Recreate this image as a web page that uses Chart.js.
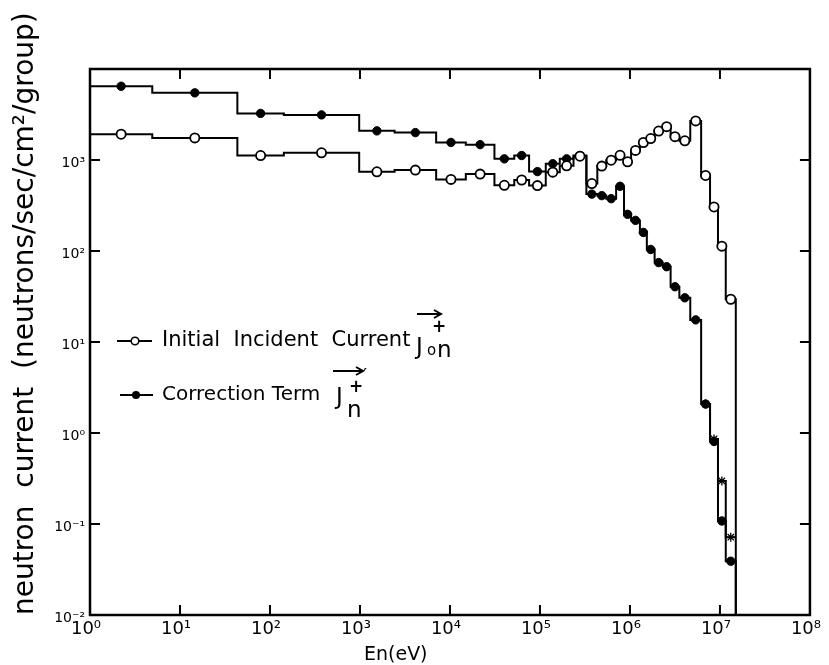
<!DOCTYPE html>
<html><head><meta charset="utf-8">
<script src="https://cdn.jsdelivr.net/npm/chart.js@4.4.1/dist/chart.umd.min.js"></script>
<style>html,body{margin:0;padding:0;background:#fff;}</style>
</head><body>
<canvas id="c" width="829" height="665"></canvas>
<script>
// ---- data ----
// energy-group boundaries (eV), 31 groups
const groupBounds = [1, 4.92, 43.4, 142.6, 980, 2425, 7020, 1.5e4, 3.12e4, 5.18e4,
  7.57e4, 1.16e5, 1.66e5, 2.36e5, 3.28e5, 4.34e5, 5.45e5, 7.02e5, 8.59e5, 1.03e6,
  1.29e6, 1.54e6, 1.88e6, 2.31e6, 2.83e6, 3.54e6, 4.68e6, 6.18e6, 7.76e6, 9.51e6,
  1.16e7, 1.5e7];
// Initial Incident Current (open circles)
const initialCurrent = [1920, 1750, 1120, 1200, 742, 774, 612, 700, 527, 603,
  523, 735, 863, 1100, 551, 857, 995, 1127, 956, 1275,
  1557, 1722, 2080, 2325, 1805, 1625, 2690, 676, 305, 113, 29.5];
// Correction Term (filled circles)
const correctionTerm = [6460, 5470, 3250, 3130, 2090, 2000, 1560, 1475, 1030, 1120,
  746, 910, 1030, 1120, 422, 406, 376, 514, 253, 217,
  160, 104, 74.6, 67.2, 40.5, 30.6, 17.5, 2.08, 0.807, 0.108, 0.039];
// star-marked values of the last groups (0-based group index of first)
const starFirstGroup = 27;
const starValues = [2.08, 0.86, 0.297, 0.0716];
// axes
const xTickExps = [0, 1, 2, 3, 4, 5, 6, 7, 8];
const yTickExps = [-2, -1, 0, 1, 2, 3, 4];
const yMin = 1e-2, yMax = 1e4, xMin = 1, xMax = 1e8;

// ---- helpers ----
const SUP = {'-':'\u207B','0':'\u2070','1':'\u00B9','2':'\u00B2','3':'\u00B3','4':'\u2074','5':'\u2075','6':'\u2076','7':'\u2077','8':'\u2078','9':'\u2079'};
function powLabel(v){ const e = Math.round(Math.log10(v)); return '10' + String(e).split('').map(c=>SUP[c]).join(''); }

function stepPoints(values, start, drop){
  const pts = values.map((v,i)=>({x: groupBounds[start+i], y: v}));
  const end = groupBounds[start+values.length];
  pts.push({x: end, y: values[values.length-1]});
  if (drop) pts.push({x: end, y: yMin});
  return pts;
}
function markerPoints(values, start){
  return values.map((v,i)=>({x: Math.sqrt(groupBounds[start+i]*groupBounds[start+i+1]), y: v}));
}

const FONT = '"DejaVu Sans", "Liberation Sans", sans-serif';

const framePlugin = {
  id: 'frame',
  beforeDraw(chart){
    const ctx = chart.ctx; ctx.save(); ctx.fillStyle='#fff'; ctx.fillRect(0,0,chart.width,chart.height); ctx.restore();
  },
  afterDraw(chart){
    const ctx = chart.ctx, ca = chart.chartArea, xs = chart.scales.x, ys = chart.scales.y;
    ctx.save();
    ctx.strokeStyle = '#000'; ctx.lineWidth = 2.5;
    ctx.strokeRect(ca.left, ca.top, ca.right-ca.left, ca.bottom-ca.top);
    ctx.lineWidth = 2;
    const L = 10;
    xTickExps.slice(1,-1).forEach(e=>{
      const px = xs.getPixelForValue(10**e);
      ctx.beginPath(); ctx.moveTo(px, ca.bottom); ctx.lineTo(px, ca.bottom-L);
      ctx.moveTo(px, ca.top); ctx.lineTo(px, ca.top+L); ctx.stroke();
    });
    yTickExps.slice(1,-1).forEach(e=>{
      const py = ys.getPixelForValue(10**e);
      ctx.beginPath(); ctx.moveTo(ca.left, py); ctx.lineTo(ca.left+L, py);
      ctx.moveTo(ca.right, py); ctx.lineTo(ca.right-L, py); ctx.stroke();
    });
    // x axis label
    ctx.fillStyle='#000'; ctx.font = '19px ' + FONT; ctx.textAlign='left'; ctx.textBaseline='alphabetic';
    ctx.fillText('En(eV)', xs.getPixelForValue(1e3)+4, ca.bottom+45);

    // legend
    const lx = ca.left, y1 = ys.getPixelForValue(10) - 1, y2 = y1 + 54;
    ctx.lineWidth = 2;
    ctx.beginPath(); ctx.moveTo(lx+27, y1); ctx.lineTo(lx+62, y1); ctx.stroke();
    ctx.beginPath(); ctx.arc(lx+45, y1, 3.8, 0, 2*Math.PI); ctx.fillStyle='#fff'; ctx.fill(); ctx.lineWidth=1.6; ctx.stroke();
    ctx.lineWidth = 2;
    ctx.beginPath(); ctx.moveTo(lx+30, y2); ctx.lineTo(lx+63, y2); ctx.stroke();
    ctx.beginPath(); ctx.arc(lx+46, y2, 4, 0, 2*Math.PI); ctx.fillStyle='#000'; ctx.fill();
    ctx.fillStyle='#000'; ctx.textBaseline='middle';
    ctx.font = '21px ' + FONT;
    ctx.fillText('Initial  Incident  Current', lx+72, y1);
    ctx.font = '20px ' + FONT;
    ctx.fillText('Correction Term', lx+72, y2);
    // J vector symbols
    function arrow(x1,x2,y){
      ctx.beginPath(); ctx.moveTo(x1,y); ctx.lineTo(x2,y); ctx.stroke();
      ctx.beginPath(); ctx.moveTo(x2-7,y-4); ctx.lineTo(x2,y); ctx.lineTo(x2-7,y+4); ctx.stroke();
    }
    ctx.textBaseline='alphabetic'; ctx.lineWidth=2;
    // row 1: J+ on
    let jx = lx+326;
    ctx.font = '23px ' + FONT; ctx.fillText('J', jx, y1+13);
    ctx.font = '15px ' + FONT; ctx.fillText('o', jx+11, y1+14);
    ctx.font = '23px ' + FONT; ctx.fillText('n', jx+21, y1+16);
    ctx.font = 'bold 17px ' + FONT; ctx.fillText('+', jx+16, y1-9);
    arrow(jx+1, jx+25, y1-27);
    // row 2: J+' n
    jx = lx+246;
    ctx.font = '23px ' + FONT; ctx.fillText('J', jx, y2+9);
    ctx.font = 'bold 17px ' + FONT; ctx.fillText('+', jx+13, y2-3);
    ctx.font = '18px ' + FONT; ctx.fillText('\u2032', jx+27, y2-14);
    ctx.font = '23px ' + FONT; ctx.fillText('n', jx+11, y2+22);
    arrow(jx-3, jx+27, y2-24);
    ctx.restore();
  }
};

const lineDs = (data, order) => ({data, showLine: true, stepped: true, borderColor:'#000', borderWidth: 2,
  pointRadius: 0, fill: false, order});
const ds = [
  lineDs(stepPoints(initialCurrent, 0, true), 3),
  lineDs(stepPoints(correctionTerm, 0, true), 3),
  lineDs(stepPoints(starValues, starFirstGroup, false), 3),
  {data: markerPoints(correctionTerm, 0), showLine: false, pointRadius: 4.2, pointBackgroundColor:'#000',
   pointBorderColor:'#000', pointBorderWidth: 1, order: 1},
  {data: markerPoints(initialCurrent, 0), showLine: false, pointRadius: 4.6, pointBackgroundColor:'#fff',
   pointBorderColor:'#000', pointBorderWidth: 1.8, order: 0},
  {data: markerPoints(starValues, starFirstGroup), showLine: false, pointStyle:'star', pointRadius: 4.5,
   pointBackgroundColor:'#000', pointBorderColor:'#000', pointBorderWidth: 1.3, order: 0}
];

new Chart(document.getElementById('c'), {
  type: 'line',
  data: {datasets: ds},
  plugins: [framePlugin],
  options: {
    responsive: false, animation: false, devicePixelRatio: 1,
    layout: {padding: {top: 69, right: 11, left: 0, bottom: 0}},
    plugins: {legend: {display: false}, tooltip: {enabled: false}},
    scales: {
      x: {
        type: 'logarithmic', position: 'bottom', min: xMin, max: xMax,
        afterBuildTicks: s => { s.ticks = xTickExps.map(e => ({value: 10**e})); },
        afterFit: s => { s.height = 50; },
        grid: {display: false, drawTicks: false}, border: {display: false},
        ticks: {callback: v => powLabel(v), color:'#000', font: {family: FONT, size: 18},
                padding: 4, maxRotation: 0, autoSkip: false, labelOffset: -4}
      },
      y: {
        type: 'logarithmic', position: 'left', min: yMin, max: yMax,
        afterBuildTicks: s => { s.ticks = yTickExps.map(e => ({value: 10**e})); },
        afterFit: s => { s.width = 90; },
        grid: {display: false, drawTicks: false}, border: {display: false},
        ticks: {callback: v => (Math.round(Math.log10(v)) >= 4 ? '' : powLabel(v)), color:'#000',
                font: {family: FONT, size: 14}, padding: 5, autoSkip: false, labelOffset: 3},
        title: {display: true, text: 'neutron  current  (neutrons/sec/cm\u00B2/group)', color:'#000',
                font: {family: FONT, size: 28}, align: 'start', padding: {top: 9, bottom: 0}}
      }
    }
  }
});
</script>
</body></html>
